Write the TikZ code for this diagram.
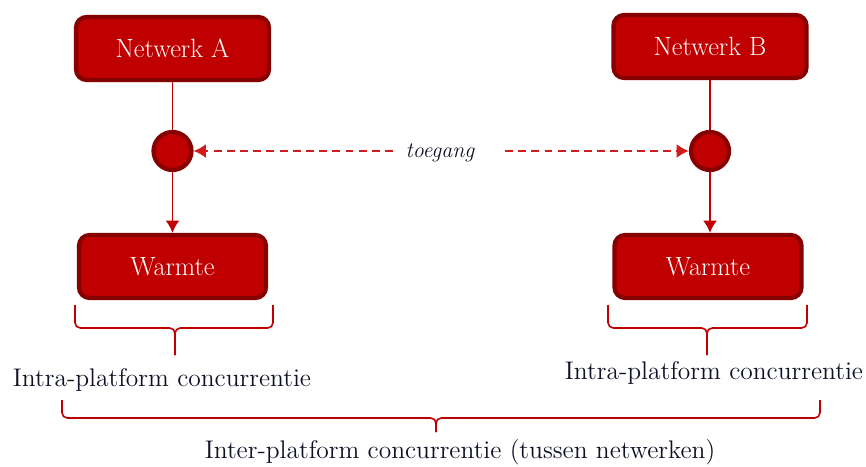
\documentclass[tikz,border=0pt]{standalone}
\usepackage{tikz}
\usetikzlibrary{arrows.meta}

\definecolor{boxred}{RGB}{192,0,0}
\definecolor{edgered}{RGB}{135,0,0}
\definecolor{dashred}{RGB}{208,28,28}
\definecolor{textnavy}{RGB}{15,18,38}

\begin{document}
\begin{tikzpicture}[thick, >={Latex[length=7pt,width=8pt]},
  netbox/.style={draw=edgered, line width=2.4pt, fill=boxred, rounded corners=6pt,
    minimum width=3.86cm, minimum height=1.26cm, text=white, font=\fontsize{15}{17}\selectfont},
  hub/.style={circle, draw=edgered, line width=2.4pt, fill=boxred, minimum size=0.76cm, inner sep=0pt},
  link/.style={boxred, line width=1.1pt},
  access/.style={dashred, line width=1.1pt, dash pattern=on 4.5pt off 3pt},
  brace/.style={boxred, line width=0.9pt, rounded corners=3pt},
  caption/.style={text=textnavy, font=\fontsize{14.5}{17}\selectfont}]
  \useasboundingbox (0,0) rectangle (17.32,9.32);

  % draw networks
  \node[netbox] (netA) at (3.45,8.35) {Netwerk A};
  \node[netbox] (netB) at (14.2,8.39) {Netwerk B};

  % draw access points
  \node[hub] (hubA) at (3.45,6.3) {};
  \node[hub] (hubB) at (14.2,6.3) {};

  % draw heat boxes
  \node[netbox, minimum width=3.74cm] (warmA) at (3.45,3.99) {Warmte};
  \node[netbox, minimum width=3.74cm] (warmB) at (14.16,3.99) {Warmte};

  % draw links
  \draw[link] (netA) -- (hubA);
  \draw[link, ->] (hubA) -- (warmA);
  \draw[link] (netB) -- (hubB);
  \draw[link, ->] (hubB) -- (hubB |- warmB.north);

  % draw access (toegang)
  \node[text=textnavy, font=\fontsize{12.5}{15}\selectfont\itshape] (access) at (8.8,6.26) {toegang};
  \coordinate (accL) at (7.86,6.3);
  \coordinate (accR) at (10.1,6.3);
  \draw[access, ->] (accL) -- (hubA);
  \draw[access, ->] (accR) -- (hubB);

  % draw braces
  % intra-platform (left)
  \draw[brace] (1.5,3.22) -- (1.5,2.76) -- (3.5,2.76) -- (3.5,2.22);
  \draw[brace] (5.46,3.22) -- (5.46,2.76) -- (3.5,2.76) -- (3.5,2.22);
  % intra-platform (right)
  \draw[brace] (12.16,3.22) -- (12.16,2.76) -- (14.14,2.76) -- (14.14,2.22);
  \draw[brace] (16.14,3.22) -- (16.14,2.76) -- (14.14,2.76) -- (14.14,2.22);
  % inter-platform
  \draw[brace] (1.24,1.32) -- (1.24,0.96) -- (8.72,0.96) -- (8.72,0.68);
  \draw[brace] (16.4,1.32) -- (16.4,0.96) -- (8.72,0.96) -- (8.72,0.68);

  % draw captions
  \node[caption] (intraA) at (3.24,1.72) {Intra-platform concurrentie};
  \node[caption] (intraB) at (14.28,1.86) {Intra-platform concurrentie};
  \node[caption] (inter) at (9.2,0.28) {Inter-platform concurrentie (tussen netwerken)};

\end{tikzpicture}
\end{document}
